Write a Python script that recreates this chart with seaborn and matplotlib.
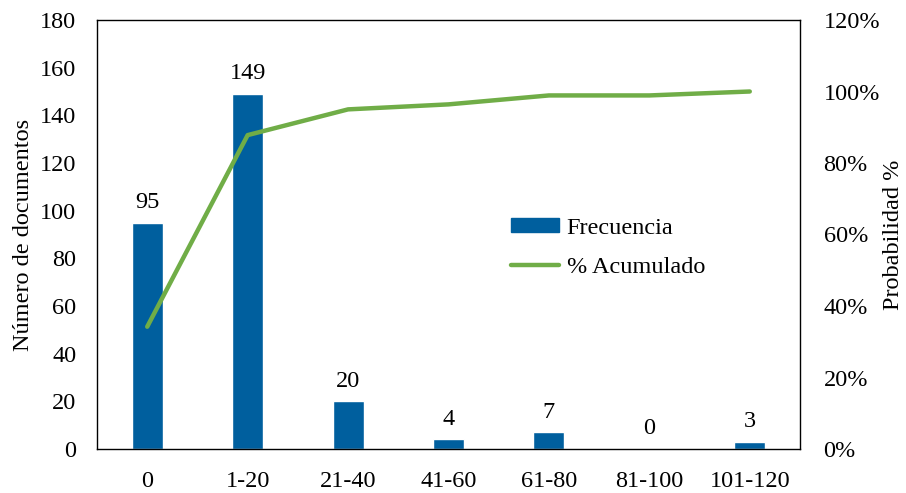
import matplotlib
matplotlib.use("Agg")
import matplotlib.pyplot as plt
import seaborn as sns
import pandas as pd
from matplotlib.ticker import FuncFormatter
from matplotlib.lines import Line2D
from matplotlib.patches import Patch

categories = ["0", "1-20", "21-40", "41-60", "61-80", "81-100", "101-120"]
frecuencia = [95, 149, 20, 4, 7, 0, 3]
acumulado = [34.2, 87.8, 95.0, 96.4, 98.9, 98.9, 100.0]

sns.set_theme(style="white")
plt.rcParams["font.family"] = ["Liberation Serif", "DejaVu Serif"]
plt.rcParams["font.size"] = 18
plt.rcParams["text.color"] = "black"
plt.rcParams["axes.labelcolor"] = "black"
plt.rcParams["xtick.color"] = "black"
plt.rcParams["ytick.color"] = "black"

df = pd.DataFrame({"cat": categories, "freq": frecuencia, "acum": acumulado})
FS = 17.5

fig = plt.figure(figsize=(9.06, 4.93), dpi=100)
ax = fig.add_axes([97/906, 1 - 449/493, (800-97)/906, (449-20)/493])
bar_color = "#005F9E"
line_color = "#70AD47"
sns.barplot(data=df, x="cat", y="freq", color=bar_color, width=0.31,
            saturation=1, ax=ax)
ax.set_ylim(0, 180)
ax.set_yticks(range(0, 181, 20))
ax.set_xlabel("")
ax.set_ylabel("Número de documentos", fontsize=FS, labelpad=4)
ax.tick_params(axis="x", labelsize=FS, length=0, pad=16)
ax.tick_params(axis="y", labelsize=FS, length=0, pad=15)
for s in ax.spines.values():
    s.set_visible(True)
    s.set_color("black")
    s.set_linewidth(1.0)
for i, v in enumerate(frecuencia):
    ax.text(i, v + 4, str(v), ha="center", va="bottom", fontsize=FS)

ax2 = ax.twinx()
sns.lineplot(x=list(range(len(categories))), y=acumulado, color=line_color,
             linewidth=3.2, ax=ax2, solid_capstyle="round")
ax2.set_ylim(0, 120)
ax2.set_yticks(range(0, 121, 20))
ax2.yaxis.set_major_formatter(FuncFormatter(lambda v, p: f"{int(v)}%"))
ax2.set_ylabel("Probabilidad %", fontsize=FS, labelpad=2)
ax2.tick_params(axis="y", labelsize=FS, length=0, pad=17)
ax.set_xlim(-0.5, len(categories) - 0.5)
for s in ax2.spines.values():
    s.set_visible(False)

handles = [Patch(facecolor=bar_color, edgecolor=bar_color),
           Line2D([0], [0], color=line_color, linewidth=3.2, solid_capstyle="round")]
ax2.legend(handles, ["Frecuencia", "% Acumulado"], loc="center",
           bbox_to_anchor=((608-97)/703, (449-248)/429), frameon=False,
           fontsize=FS, handlelength=2.0, handleheight=0.5, labelspacing=0.75,
           handletextpad=0.3)

fig.savefig("out.png", dpi=100)
